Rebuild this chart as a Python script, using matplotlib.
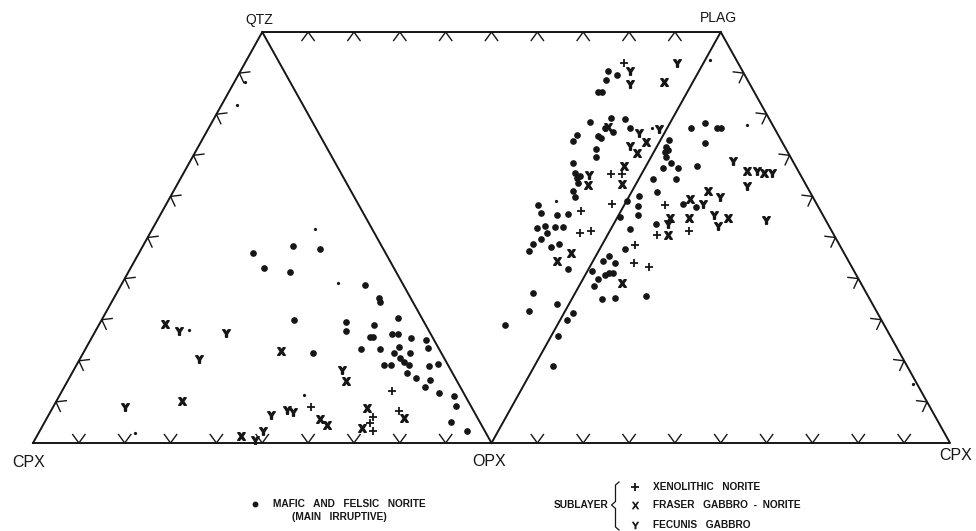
import matplotlib.pyplot as plt
import numpy as np
from matplotlib.lines import Line2D

# Diagram units: base runs CPX (0) - OPX (100) - CPX (200), apex height 100
apex = {"CPX": (0, 0), "OPX": (100, 0), "CPX2": (200, 0),
        "QTZ": (50, 100), "PLAG": (150, 100)}

# Mafic and felsic norite (Main Irruptive)
norite_x = [47.9, 56.6, 62.7, 50.4, 56.1, 72.4, 75.5, 75.7, 56.9, 68.2, 68.2, 74.4, 79.7,
            73.5, 74.2, 78.2, 79.7, 82.4, 85.7, 86.1, 61.1, 71.5, 75.7, 79.9, 78.7, 82.3,
            80.0, 80.9, 82.1, 76.6, 78.1, 81.5, 86.3, 88.3, 83.5, 86.6, 85.5, 88.6, 91.8,
            92.3, 91.2, 94.6,
            125.5, 127.4, 125.0, 123.2, 124.1, 121.5, 126.0, 124.8, 126.4, 129.1, 130.2,
            118.6, 117.8, 123.2, 123.9, 122.8, 122.8, 117.8, 118.2, 118.7, 118.9, 119.3,
            117.8, 118.3, 110.2, 110.9, 114.2, 116.7, 110.0, 111.6, 113.8, 115.5, 112.1,
            109.1, 108.2, 110.9, 112.9, 114.7, 116.7, 109.0, 108.2, 114.2, 117.7, 116.4,
            114.6, 102.9, 113.5,
            129.5, 132.2, 132.0, 131.9, 128.0, 130.1, 136.1, 141.7, 144.6, 135.8, 138.7,
            138.1, 138.6, 137.8, 138.1, 137.5, 139.1, 140.7, 144.8, 135.3, 140.3, 143.5,
            146.6, 149.1, 150.1, 146.6, 125.6, 124.4, 127.0, 129.1, 121.9, 124.8, 125.7,
            126.4, 123.3, 122.4, 124.0, 126.9, 133.8]
norite_y = [46.2, 47.9, 47.3, 42.6, 41.5, 38.4, 35.2, 34.2, 29.9, 29.4, 27.3, 28.6, 30.3,
            25.9, 25.9, 26.5, 26.5, 25.6, 25.1, 23.0, 22.0, 22.8, 22.9, 23.3, 22.0, 21.8,
            20.6, 19.8, 19.0, 18.9, 19.0, 17.0, 18.7, 19.2, 15.8, 15.3, 13.6, 12.2, 11.4,
            9.0, 5.2, 2.9,
            90.6, 89.5, 88.3, 85.5, 85.5, 78.1, 79.1, 76.6, 75.7, 78.8, 76.6,
            74.9, 73.5, 74.8, 74.1, 71.5, 69.6, 68.1, 65.6, 64.4, 63.2, 65.0,
            61.3, 59.8, 57.9, 56.0, 55.5, 55.6, 52.2, 52.9, 52.5, 52.5, 51.1,
            48.4, 46.7, 49.6, 47.8, 48.3, 42.3, 36.4, 32.2, 33.9, 31.6, 29.9,
            26.0, 28.6, 18.7,
            58.9, 60.0, 57.7, 55.5, 55.1, 52.0, 61.1, 58.1, 57.5, 53.2, 73.8,
            72.1, 71.3, 70.8, 69.7, 66.9, 68.1, 66.8, 67.5, 64.2, 64.2, 76.6,
            77.9, 76.6, 76.7, 73.0, 45.6, 44.4, 43.9, 47.1, 41.8, 40.9, 41.3,
            41.3, 39.8, 38.3, 35.0, 35.4, 35.8]

# Sublayer: xenolithic norite (+)
xeno_x = [60.6, 78.4, 74.1, 73.5, 74.1, 79.9, 129.0, 126.1, 128.5, 126.3, 137.8, 119.5,
          119.3, 121.7, 136.2, 143.1, 131.3, 131.1, 134.4]
xeno_y = [8.8, 12.7, 6.3, 4.8, 3.0, 7.9, 92.5, 65.4, 65.4, 58.1, 58.0, 56.4,
          51.2, 51.6, 50.6, 51.5, 48.1, 43.7, 42.9]

# Sublayer: Fraser gabbro - norite (X)
fraser_x = [28.8, 32.6, 54.1, 45.3, 68.2, 72.8, 62.6, 64.1, 71.7, 81.0, 137.6, 125.3,
            133.8, 131.7, 121.0, 128.9, 128.5, 143.3, 147.3, 139.0, 143.1, 151.5, 138.6,
            155.8, 159.5, 117.3, 114.2, 128.5]
fraser_y = [29.0, 10.3, 22.5, 1.8, 15.2, 8.4, 5.8, 4.3, 3.6, 6.2, 87.9, 77.0,
            73.3, 70.5, 62.8, 67.5, 62.9, 59.4, 61.4, 54.7, 54.7, 54.7, 50.6,
            66.3, 65.6, 46.3, 44.2, 38.9]

# Sublayer: Fecunis gabbro (Y)
fecunis_x = [31.8, 42.0, 36.3, 20.1, 67.3, 51.8, 55.3, 56.6, 50.1, 48.5, 130.1, 130.2,
             140.4, 132.2, 136.5, 130.2, 121.3, 146.1, 149.8, 152.7, 157.8, 161.1, 155.8,
             148.5, 149.4, 159.9, 138.5]
fecunis_y = [27.2, 26.7, 20.4, 8.8, 17.8, 6.9, 8.0, 7.6, 3.0, 0.7, 90.6, 87.3,
             92.5, 75.4, 76.4, 72.3, 65.2, 58.1, 59.9, 68.6, 66.3, 65.6, 62.6,
             55.4, 52.9, 54.3, 53.4]

# unassigned small specks
speck_x = [46.2, 44.4, 147.7, 155.7, 191.9, 34.0, 66.6, 114.0, 135.1, 59.0, 61.4, 22.2]
speck_y = [87.8, 82.2, 93.2, 77.4, 14.4, 27.5, 39.0, 58.8, 76.6, 11.7, 52.0, 2.4]

ink = "#161616"
W, H = 976, 531
X_MARK = r"$\mathbf{X}$"
Y_MARK = r"$\mathbf{Y}$"

fig = plt.figure(figsize=(W / 100, H / 100), dpi=100)
ax = fig.add_axes([0, 0, 1, 1])
ax.set_xlim(-7.2, 205.67)
ax.set_ylim(-21.41, 107.79)
ax.axis("off")

# outline of the three triangles
outline = ["CPX", "QTZ", "PLAG", "CPX2", "CPX"]
ax.plot([apex[k][0] for k in outline], [apex[k][1] for k in outline], color=ink, lw=1.4)
for a, b in [("QTZ", "OPX"), ("OPX", "PLAG")]:
    ax.plot([apex[a][0], apex[b][0]], [apex[a][1], apex[b][1]], color=ink, lw=1.4)


def edge_ticks(p0, p1, inner, n=10, length=10.5, spread=36):
    """Chevron ticks at every 10% along an edge, opening toward the interior."""
    tr = ax.transData
    a, b, c = tr.transform([apex[p0], apex[p1], apex[inner]])
    d = (b - a) / np.linalg.norm(b - a)
    nrm = np.array([-d[1], d[0]])
    if np.dot(c - a, nrm) < 0:
        nrm = -nrm
    th = np.radians(spread)
    for f in np.arange(1, n) / n:
        base = a + (b - a) * f
        arms = []
        for s in (-1, 1):
            rot = np.array([[np.cos(s * th), -np.sin(s * th)],
                            [np.sin(s * th), np.cos(s * th)]])
            arms.append(base + length * rot @ nrm)
        pts = tr.inverted().transform([arms[0], base, arms[1]])
        ax.plot(pts[:, 0], pts[:, 1], color=ink, lw=1.0)


edge_ticks("CPX", "QTZ", "OPX")
edge_ticks("CPX", "OPX", "QTZ")
edge_ticks("QTZ", "PLAG", "OPX")
edge_ticks("OPX", "CPX2", "PLAG")
edge_ticks("PLAG", "CPX2", "OPX")

# samples
ax.plot(norite_x, norite_y, "o", ms=3.8, color=ink, mec=ink)
ax.plot(xeno_x, xeno_y, "+", ms=6, mew=1.3, color=ink)
ax.plot(fraser_x, fraser_y, marker=X_MARK, ms=5.5, color=ink, ls="none")
ax.plot(fecunis_x, fecunis_y, marker=Y_MARK, ms=5.5, color=ink, ls="none")
ax.plot(speck_x, speck_y, "o", ms=1.3, color=ink, mec=ink)

# apex labels
labels = [("QTZ", "QTZ", (-3, 12), 10), ("PLAG", "PLAG", (-2, 14), 10),
          ("CPX", "CPX", (-4, -19), 11.5), ("OPX", "OPX", (-2, -18), 11.5),
          ("CPX2", "CPX", (6, -12), 11.5)]
for key, txt, off, fs in labels:
    ax.annotate(txt, apex[key], xytext=off, textcoords="offset pixels",
                ha="center", va="center", fontsize=fs, color=ink,
                family="Liberation Sans")

# legend, placed in figure pixels
def fx(px):
    return px / W


def fy(py):
    return 1 - py / H


lg = dict(fontsize=7.3, fontweight="bold", color=ink, family="Liberation Sans", va="center")
fig.add_artist(Line2D([fx(255)], [fy(504)], marker="o", ms=3.2, color=ink,
                      transform=fig.transFigure))
fig.text(fx(273), fy(504), "MAFIC   AND   FELSIC   NORITE", ha="left", **lg)
fig.text(fx(339), fy(517), "(MAIN   IRRUPTIVE)", ha="center", **lg)

fig.text(fx(608), fy(505), "SUBLAYER", ha="right", **lg)
brace = [(619, 482), (615.5, 485), (615.5, 501.5), (611.5, 505), (615.5, 508.5),
         (615.5, 527), (619, 530)]
fig.add_artist(Line2D([fx(p[0]) for p in brace], [fy(p[1]) for p in brace],
                      color=ink, lw=0.9, transform=fig.transFigure))
sub = [("+", 6, 1.3, "XENOLITHIC   NORITE", 487),
       (X_MARK, 5.5, 0, "FRASER   GABBRO  -  NORITE", 505),
       (Y_MARK, 5.5, 0, "FECUNIS   GABBRO", 524.5)]
for mk, ms, mew, txt, py in sub:
    fig.add_artist(Line2D([fx(635)], [fy(py)], marker=mk, ms=ms, mew=mew, color=ink,
                          ls="none", transform=fig.transFigure))
    fig.text(fx(653), fy(py), txt, ha="left", **lg)

fig.savefig("out.png", dpi=100, facecolor="white")
